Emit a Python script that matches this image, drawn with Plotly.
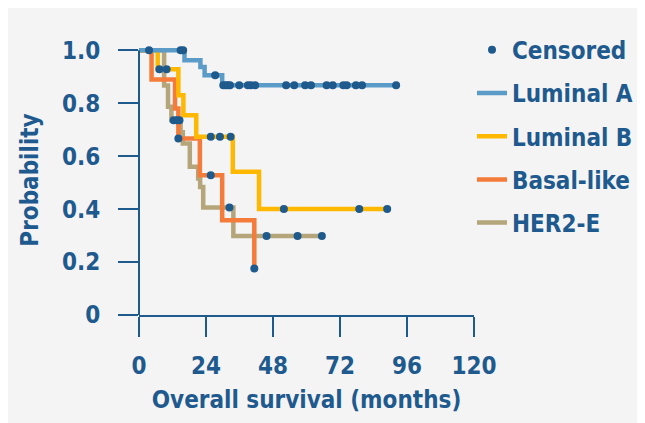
import plotly.graph_objects as go

# ---------------- data ----------------
# Kaplan-Meier steps: event times (months) and survival after each step
lumA_t = [0, 16.3, 22.0, 23.5, 29.8]
lumA_s = [1.0, 0.962, 0.937, 0.906, 0.868]
lumA_end = 92.1
lumA_cens = [3.6, 14.9, 15.8, 27.3, 30.2, 31.1, 31.9, 32.6, 35.9, 39.0, 40.1,
             41.6, 52.7, 55.6, 59.5, 61.6, 67.2, 69.4, 73.2, 74.4, 77.7, 79.9, 92.1]

lumB_t = [0, 6.7, 14.1, 15.9, 20.5, 33.6, 43.0]
lumB_s = [1.0, 0.928, 0.83, 0.755, 0.673, 0.541, 0.40]
lumB_end = 88.9
lumB_cens = [7.3, 9.9, 25.7, 29.0, 32.8, 51.9, 78.9, 88.9]

basal_t = [0, 4.5, 12.9, 14.1, 21.8, 29.8, 41.3]
basal_s = [1.0, 0.89, 0.78, 0.667, 0.528, 0.358, 0.176]
basal_end = 41.3
basal_cens = [14.1, 25.7, 41.3]

her2_t = [0, 9.0, 10.4, 11.6, 14.9, 15.7, 18.2, 21.2, 21.9, 23.0, 33.8]
her2_s = [1.0, 0.867, 0.787, 0.736, 0.69, 0.648, 0.56, 0.516, 0.484, 0.406, 0.298]
her2_end = 65.5
her2_cens = [12.4, 13.5, 14.5, 32.4, 45.7, 56.8, 65.5]

groups = ["Luminal A", "Luminal B", "Basal-like", "HER2-E"]
colors = {"Luminal A": "#5b9bc8", "Luminal B": "#ffb800",
          "Basal-like": "#f47b3a", "HER2-E": "#b5a57a"}
dot_color = "#1f5a8c"
text_color = "#1f5a8e"

x_ticks = [0, 24, 48, 72, 96, 120]
y_ticks = [0, 0.2, 0.4, 0.6, 0.8, 1.0]
y_ticklabels = ["0", "0.2", "0.4", "0.6", "0.8", "1.0"]

series = {
    "Luminal A": (lumA_t, lumA_s, lumA_end, lumA_cens),
    "Luminal B": (lumB_t, lumB_s, lumB_end, lumB_cens),
    "Basal-like": (basal_t, basal_s, basal_end, basal_cens),
    "HER2-E": (her2_t, her2_s, her2_end, her2_cens),
}


def surv_at(t, times, surv):
    val = surv[0]
    for tt, ss in zip(times, surv):
        if tt <= t:
            val = ss
    return val


FONT = "DejaVu Sans Condensed, DejaVu Sans"
WEIGHT = 700
fig = go.Figure()

# draw order: HER2-E bottom ... Luminal A top
draw_order = ["HER2-E", "Basal-like", "Luminal B", "Luminal A"]
for name in draw_order:
    t, s, end, _ = series[name]
    fig.add_trace(go.Scatter(
        x=list(t) + [end], y=list(s) + [s[-1]],
        mode="lines", line=dict(color=colors[name], width=4.5, shape="hv"),
        name=name, legendrank=groups.index(name) + 2, legendgroup=name,
    ))

cx, cy = [], []
for name in groups:
    t, s, end, cens = series[name]
    for c in cens:
        cx.append(c)
        cy.append(surv_at(c, t, s))
fig.add_trace(go.Scatter(
    x=cx, y=cy, mode="markers", name="Censored",
    marker=dict(color=dot_color, size=8), legendrank=1, legendgroup="cens",
    cliponaxis=False,
))

# y axis line (0 .. 1.0)
fig.add_shape(type="line", xref="paper", yref="y", x0=0, x1=0, y0=0, y1=1.0,
              line=dict(color=dot_color, width=2))

fig.update_layout(
    width=645, height=423,
    margin=dict(l=131, r=179, t=37, b=116, autoexpand=False),
    paper_bgcolor="#f4f4f4", plot_bgcolor="#f4f4f4",
    font=dict(family=FONT, color=text_color, size=24, weight=WEIGHT),
    showlegend=True,
    legend=dict(x=0.994, xanchor="left", y=1.064, yanchor="top",
                font=dict(size=24, color=text_color, family=FONT, weight=WEIGHT),
                bgcolor="rgba(0,0,0,0)", tracegroupgap=9, itemwidth=30),
    xaxis=dict(range=[0, 120], tickvals=x_ticks, ticks="outside", ticklen=20,
               tickwidth=2, tickcolor=dot_color, showline=True, linewidth=2,
               linecolor=dot_color, showgrid=False, zeroline=False,
               tickfont=dict(size=24, weight=WEIGHT), ticklabelstandoff=8,
               title=dict(text="Overall survival (months)",
                          font=dict(size=24, weight=WEIGHT), standoff=12)),
    yaxis=dict(range=[0, 1.02], tickvals=y_ticks, ticktext=y_ticklabels,
               ticks="outside", ticklen=20, tickwidth=2, tickcolor=dot_color,
               showline=False, showgrid=False, zeroline=False,
               tickfont=dict(size=24, weight=WEIGHT), ticklabelstandoff=13,
               title=dict(text="Probability", font=dict(size=24, weight=WEIGHT),
                          standoff=16)),
)

fig.write_html("out.html")
